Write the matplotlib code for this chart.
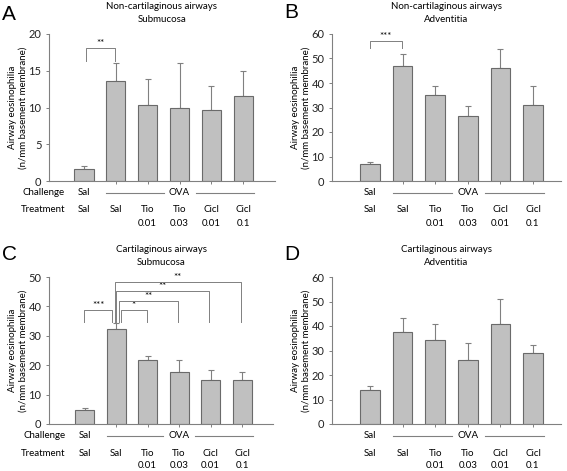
import matplotlib
matplotlib.use('Agg')
import matplotlib.pyplot as plt
from matplotlib.transforms import blended_transform_factory, ScaledTranslation
from matplotlib.lines import Line2D

plt.rcParams['font.family'] = ['Lato', 'DejaVu Sans']

# ---------------- data ----------------
treatments = ['Sal', 'Sal', 'Tio', 'Tio', 'Cicl', 'Cicl']
doses = ['', '', '0.01', '0.03', '0.01', '0.1']
challenge_first = 'Sal'
challenge_rest = 'OVA'

a_vals = [1.6, 13.6, 10.4, 9.95, 9.7, 11.5]
a_err = [0.4, 2.5, 3.5, 6.05, 3.2, 3.5]
b_vals = [6.8, 46.9, 35.1, 26.7, 46.3, 31.2]
b_err = [0.8, 5.1, 3.8, 4.0, 7.7, 7.6]
c_vals = [4.7, 32.2, 21.7, 17.7, 14.9, 14.9]
c_err = [0.9, 2.1, 1.5, 4.2, 3.6, 2.9]
d_vals = [13.7, 37.7, 34.3, 26.2, 40.7, 29.0]
d_err = [2.0, 5.5, 6.5, 6.7, 10.3, 3.2]

titles = [('Non-cartilaginous airways', 'Submucosa'),
          ('Non-cartilaginous airways', 'Adventitia'),
          ('Cartilaginous airways', 'Submucosa'),
          ('Cartilaginous airways', 'Adventitia')]
letters = ['A', 'B', 'C', 'D']
ymax = [20, 60, 50, 60]
ystep = [5, 10, 10, 10]

# significance brackets: (x_left, x_right, top, leg_bottom, label)
a_sig = [(0.06, 0.97, 18.1, 16.3, '**')]
b_sig = [(-0.01, 0.98, 57.1, 54.2, '***')]
c_sig = [(-0.02, 0.88, 38.8, 34.8, '***'),
         (1.16, 1.97, 38.8, 34.8, '*'),
         (1.08, 2.97, 42.0, 34.8, '**'),
         (1.01, 3.96, 45.2, 34.8, '**'),
         (0.95, 4.96, 48.4, 34.8, '**')]
d_sig = []

# ---------------- layout ----------------
W, H = 567, 471
fig = plt.figure(figsize=(W / 100, H / 100), dpi=100)

rects = [(49, 181, 226), (332, 181, 229), (49, 424, 224), (332, 424, 229)]
xlims = [(-1.1, 6.0), (-1.17, 5.86), (-1.13, 5.98), (-1.17, 5.86)]
letter_pos = [(2, 14), (284, 12), (2, 254), (284, 254)]

panels = [(a_vals, a_err, a_sig), (b_vals, b_err, b_sig),
          (c_vals, c_err, c_sig), (d_vals, d_err, d_sig)]

GRAY = '#808080'
BAR = '#c0c0c0'
PX = 0.72  # px -> pt at 100 dpi
FS = 7

for i, (vals, errs, sigs) in enumerate(panels):
    left, base, width = rects[i]
    ax = fig.add_axes([left / W, 1 - base / H, width / W, 147 / H])
    x = list(range(len(vals)))
    ax.bar(x, vals, width=0.6, color=BAR, edgecolor='#6a6a6a', linewidth=0.8, zorder=2)
    ax.errorbar(x, vals, yerr=[[0] * len(errs), errs], fmt='none', ecolor=GRAY,
                elinewidth=0.8, capsize=2.2, capthick=0.8, zorder=1)
    ax.set_xlim(*xlims[i])
    ax.set_ylim(0, ymax[i])
    ax.set_yticks(range(0, ymax[i] + 1, ystep[i]))
    ax.set_xticks(x[1:])
    ax.set_xticklabels([])
    for s in ['top', 'right']:
        ax.spines[s].set_visible(False)
    for s in ['left', 'bottom']:
        ax.spines[s].set_color(GRAY)
        ax.spines[s].set_linewidth(0.8)
    ax.tick_params(axis='y', direction='out', length=2.5, width=0.7, color=GRAY,
                   labelsize=8, pad=3, labelcolor='#222222')
    ax.tick_params(axis='x', direction='out', length=2.5, width=0.7, color=GRAY)

    # title
    t1, t2 = titles[i]
    ax.annotate(t1, xy=(0.5, 1), xycoords='axes fraction', xytext=(0, 20),
                textcoords='offset points', ha='center', va='center', fontsize=FS)
    ax.annotate(t2, xy=(0.5, 1), xycoords='axes fraction', xytext=(0, 10.5),
                textcoords='offset points', ha='center', va='center', fontsize=FS)

    # y label
    ax.annotate('Airway eosinophilia\n(n/mm basement membrane)', xy=(0, 0.5),
                xycoords='axes fraction', xytext=(-31 * PX, 0),
                textcoords='offset points', rotation=90, ha='center', va='center',
                multialignment='center', fontsize=FS, linespacing=1.15)

    # panel letter
    lx, ly = letter_pos[i]
    fig.text(lx / W, 1 - ly / H, letters[i], fontsize=15, ha='left', va='center',
             family=['Liberation Sans'])

    # category rows below axis
    tr = blended_transform_factory(ax.transData, ax.transAxes)
    def row(xv, yoff_px, s, ha='center'):
        ax.annotate(s, xy=(xv, 0), xycoords=tr, xytext=(0, -yoff_px * PX),
                    textcoords='offset points', ha=ha, va='center', fontsize=FS,
                    annotation_clip=False)
    row(0, 11.5, challenge_first)
    row(3, 11.5, challenge_rest)
    for (xa, xb) in [(0.7, 2.5), (3.52, 5.33)]:
        ln = Line2D([xa, xb], [0, 0], color=GRAY, lw=0.8, clip_on=False)
        ln.set_transform(tr + ScaledTranslation(0, -11.5 / 100, fig.dpi_scale_trans))
        ax.add_line(ln)
    for k in x:
        row(k, 29, treatments[k])
        if doses[k]:
            row(k, 42, doses[k])
    if i in (0, 2):
        row(-0.6, 11.5, 'Challenge', ha='right')
        row(-0.6, 29, 'Treatment', ha='right')

    # significance brackets
    for (xa, xb, top, bot, lab) in sigs:
        ax.plot([xa, xa, xb, xb], [bot, top, top, bot], color=GRAY, lw=0.7,
                clip_on=False, zorder=3)
        ax.annotate(lab, xy=((xa + xb) / 2, top), xytext=(0, 3),
                    textcoords='offset points', ha='center', va='center',
                    fontsize=7, annotation_clip=False)

fig.savefig('out.png', dpi=100)
